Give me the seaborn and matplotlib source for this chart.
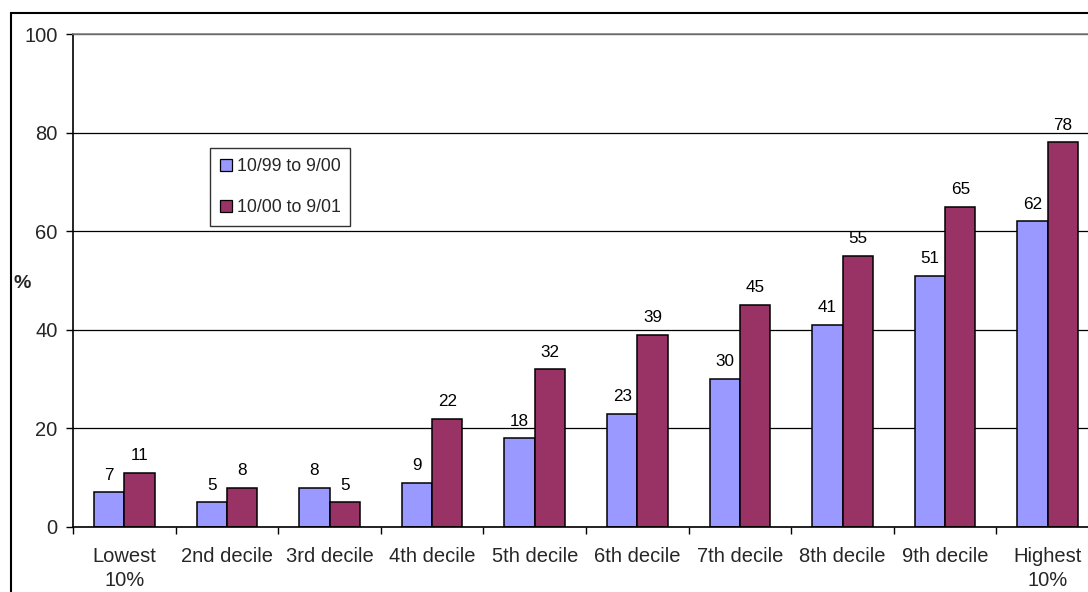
import matplotlib
matplotlib.use("Agg")
import matplotlib.pyplot as plt
import seaborn as sns
import pandas as pd
from matplotlib.patches import Rectangle
from matplotlib.lines import Line2D

categories = ["Lowest\n10%", "2nd decile", "3rd decile", "4th decile", "5th decile",
              "6th decile", "7th decile", "8th decile", "9th decile", "Highest\n10%"]
periods = ["10/99 to 9/00", "10/00 to 9/01"]
values_9900 = [7, 5, 8, 9, 18, 23, 30, 41, 51, 62]
values_0001 = [11, 8, 5, 22, 32, 39, 45, 55, 65, 78]
colors = ["#9999FF", "#993366"]
y_ticks = [0, 20, 40, 60, 80, 100]

df = pd.DataFrame({
    "category": categories * 2,
    "period": [periods[0]] * len(categories) + [periods[1]] * len(categories),
    "value": values_9900 + values_0001,
})

sns.set_theme(style="white")
plt.rcParams["font.family"] = ["Liberation Sans", "DejaVu Sans"]

W, H = 1088, 592
fig = plt.figure(figsize=(W / 100, H / 100), dpi=100)
fig.patch.set_facecolor("white")

# plot area runs slightly past the right edge of the canvas
left, right, top, bottom = 73, 1099, 34, 527
ax = fig.add_axes([left / W, 1 - bottom / H, (right - left) / W, (bottom - top) / H])

sns.barplot(data=df, x="category", y="value", hue="period", order=categories,
            hue_order=periods, palette=colors, width=0.59, edgecolor="black",
            linewidth=1.1, saturation=1, legend=False, ax=ax)

for cont in ax.containers:
    ax.bar_label(cont, fmt="%d", padding=7, fontsize=12.3, color="black")

ax.set_ylim(0, 100)
ax.set_xlim(-0.5, len(categories) - 0.5)
ax.set_yticks(y_ticks)
ax.set_yticklabels([str(v) for v in y_ticks], fontsize=14.5)
ax.set_xticks(range(len(categories)))
ax.set_xticklabels(categories, fontsize=14.5, linespacing=1.3)
ax.set_xticks([i - 0.5 for i in range(len(categories) + 1)], minor=True)
ax.tick_params(axis="x", which="major", length=0, pad=14.5)
ax.tick_params(axis="x", which="minor", length=5, width=1, color="black", direction="out", bottom=True)
ax.tick_params(axis="y", length=5, width=1, color="black", direction="out", left=True, pad=6)
ax.set_xlabel("")
ax.set_ylabel("")

ax.yaxis.grid(True, color="black", linewidth=0.9)
ax.set_axisbelow(True)
for s in ["left", "bottom"]:
    ax.spines[s].set_color("black")
    ax.spines[s].set_linewidth(1.2)
ax.spines["top"].set_color("#808080")
ax.spines["top"].set_linewidth(1.2)
ax.spines["right"].set_visible(False)

handles = [Line2D([0], [0], marker="s", linestyle="none", markersize=8.5,
                  markerfacecolor=c, markeredgecolor="black", markeredgewidth=0.9)
           for c in colors]
leg = ax.legend(handles, periods, loc="upper left",
                bbox_to_anchor=(210 / W, 1 - 148 / H), bbox_transform=fig.transFigure,
                fontsize=12.8, frameon=True, fancybox=False, handlelength=0.7,
                handletextpad=0.25, labelspacing=1.35, borderpad=0.55,
                borderaxespad=0)
leg.get_frame().set_edgecolor("black")
leg.get_frame().set_linewidth(1.0)

fig.text(22 / W, 1 - 283 / H, "%", fontsize=14, fontweight="bold", ha="center", va="center")

# chart border
fig.add_artist(Rectangle((11 / W, -0.1), 2, (H - 13) / H + 0.1, transform=fig.transFigure,
                         fill=False, edgecolor="black", linewidth=1.5, clip_on=False))

fig.savefig("out.png", dpi=100)
